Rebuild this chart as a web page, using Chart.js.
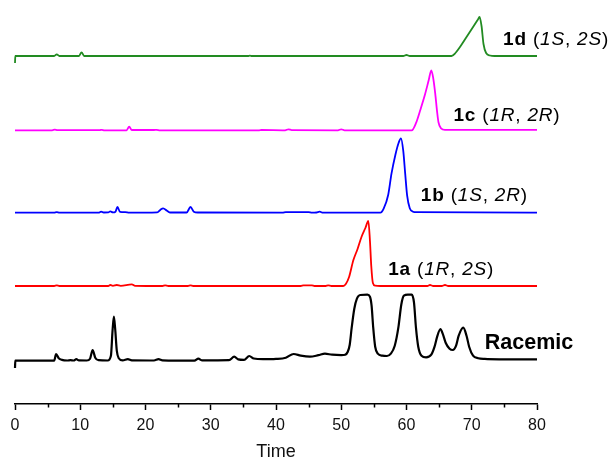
<!DOCTYPE html>
<html lang="en">
<head>
<meta charset="utf-8"/>
<title>Chromatograms</title>
<script src="https://cdn.jsdelivr.net/npm/chart.js"></script>
<style>
  html, body { margin: 0; padding: 0; background: #fff; }
  #wrap { width: 613px; height: 462px; }
</style>
</head>
<body>
<div id="wrap"><canvas id="chart" width="613" height="462"></canvas></div>
<script>
  // retention time (min), signal above each trace's own baseline
  const racemic = [
    [0,-7.3],[0.05,0],[6.0,0],[6.3,6.5],[6.7,2.5],[7.2,0.8],[8.0,0.2],[8.5,0.6],[9.0,0.2],[9.4,1.5],[9.8,0.3],
    [11.0,0.2],[11.5,2],[11.9,10.5],[12.3,3],[12.8,0.5],[14.2,0.2],[14.7,5],[14.95,30],[15.15,44],[15.35,32],
    [15.6,10],[15.9,2.5],[16.5,0.3],[17.3,1.5],[17.9,0.3],[21.3,0.2],[22.0,1.5],[22.6,0.3],[27.5,0],[28.1,2],
    [28.7,0.3],[32.8,0.5],[33.6,4],[34.2,1.3],[35.1,0.8],[35.9,4.7],[36.6,2.2],[38,1.5],[40,1.8],[41.5,3],
    [42.7,6.7],[43.8,5],[45.2,4],[46.5,5.5],[47.5,7],[48.6,6],[50,5.6],[50.6,6],[51.0,9],[51.3,16],[51.6,33],
    [52.0,52],[52.4,62],[52.9,65.7],[54.0,66],[54.4,64],[54.65,55],[54.9,33],[55.2,14],[55.6,7],[56.3,5],
    [57.0,4.7],[57.6,7],[58.2,15],[58.75,33],[59.2,56],[59.6,65],[60.2,66],[60.8,66],[61.15,58],[61.45,33],
    [61.8,14],[62.3,5],[63.0,3.4],[63.8,6],[64.3,14],[64.7,24],[65.2,31.7],[65.6,26],[66.0,18],[66.6,12],
    [67.1,10.7],[67.6,15],[68.0,25],[68.7,33],[69.2,25],[69.6,14],[70.2,5],[71.0,2.5],[72,1.8],[74.3,1.4],[80,1.3]
  ];
  const iso1a = [
    [0,0],[6.0,0],[6.4,0.7],[6.8,0],[14.3,0],[14.6,1],[15.0,0.2],[15.6,1],[16.2,0.2],[17.9,1.7],[18.4,0.2],
    [22.6,0],[23.0,0.7],[23.5,0],[26.5,0],[26.9,0.7],[27.3,0],[43.8,0],[44.2,0.7],[45.5,0.7],[45.9,0],[47.6,0],
    [48,0.7],[48.5,0],[50.3,0],[50.7,2],[51.2,9],[51.85,25.7],[52.5,37],[53.1,49],[53.7,58],[54.15,65],
    [54.4,45],[54.6,20],[54.85,3],[55.2,0.3],[56,0],[63.2,0],[63.6,1],[64.1,0],[65.4,0],[65.9,1],[66.4,0],[80,0]
  ];
  const iso1b = [
    [0,0],[6.0,0],[6.4,0.5],[6.8,0],[12.8,0],[13.2,1],[13.6,0.2],[14.3,0.3],[14.6,1.3],[15.0,0.3],[15.4,1],
    [15.7,5.7],[16.1,0.8],[16.9,0.5],[17.5,0],[21.8,0.3],[22.3,3],[22.7,4.4],[23.3,2],[23.8,0.2],[26.3,0.2],
    [26.9,5.7],[27.4,1],[28,0.2],[41,0],[41.5,0.5],[45,0.5],[45.5,0],[46.2,0.2],[46.7,1],[47.2,0],[56.0,0],
    [56.5,4],[57.2,18],[57.7,39],[58.3,58],[58.8,70],[59.15,74.4],[59.5,62],[59.8,39],[60.1,17],[60.5,4.4],
    [61.0,1],[61.5,0.5],[80,0]
  ];
  const iso1c = [
    [0,0],[5.7,0],[6.1,0.7],[6.5,0.2],[13.0,0.2],[13.3,0.5],[13.7,0],[17.1,0],[17.5,3.7],[17.9,0.3],[21.3,0.3],
    [21.7,0.5],[22.2,0],[37.4,0],[37.8,0.3],[41.4,0],[41.9,1],[42.4,0.2],[49.5,0],[50,1],[50.5,0],[60.8,0],
    [61.5,8],[62.1,20],[62.8,35],[63.4,50],[63.8,60],[64.1,52],[64.4,37],[64.7,18],[64.9,8],[65.3,2],[65.9,0.5],
    [80,0.5]
  ];
  const iso1d = [
    [0,-7],[0.05,0],[6.0,0],[6.4,1.7],[6.8,0],[9.8,0],[10.2,3.7],[10.6,0],[35.7,0],[36,0.3],[36.3,0],[59.5,0],
    [60.0,1],[60.5,0],[66.9,0],[67.5,3],[68.3,10],[69.2,19],[70.2,29],[70.9,36],[71.2,39],[71.5,30],[71.8,12],
    [72.2,3],[72.8,0.5],[73.5,0],[80,0]
  ];

  const traces  = [racemic, iso1a, iso1b, iso1c, iso1d];
  const offsets = [43.3, 118, 191.3, 273.7, 348];
  const colors  = ['#000000', '#ff0000', '#0000ff', '#ff00ff', '#228b22'];
  const widths  = [2.2, 1.8, 1.8, 1.8, 1.8];

  const xTicks = [0, 10, 20, 30, 40, 50, 60, 70, 80];
  const xMinor = [5, 15, 25, 35, 45, 55, 65, 75];

  // trace labels: anchor (time, signal) at left / middle of the text
  const traceLabels = [
    { at: [72.0, 60.7], parts: [['Racemic', 'bold']], size: 21.5, spacing: 0 },
    { at: [57.2, 134], parts: [['1a', 'bold'], [' (', ''], ['1R', 'italic'], [', ', ''], ['2S', 'italic'], [')', '']], size: 19, spacing: 0.8 },
    { at: [62.2, 208], parts: [['1b', 'bold'], [' (', ''], ['1S', 'italic'], [', ', ''], ['2R', 'italic'], [')', '']], size: 19, spacing: 0.8 },
    { at: [67.2, 288], parts: [['1c', 'bold'], [' (', ''], ['1R', 'italic'], [', ', ''], ['2R', 'italic'], [')', '']], size: 19, spacing: 0.8 },
    { at: [74.8, 364.7], parts: [['1d', 'bold'], [' (', ''], ['1S', 'italic'], [', ', ''], ['2S', 'italic'], [')', '']], size: 19, spacing: 0.8 }
  ];

  const FONT = 'Arial, "Liberation Sans", sans-serif';

  const datasets = traces.map((tr, i) => ({
    data: tr.map(p => ({ x: p[0], y: p[1] + offsets[i] })),
    borderColor: colors[i],
    borderWidth: widths[i],
    pointRadius: 0,
    fill: false,
    cubicInterpolationMode: 'monotone',
    clip: false
  }));

  const extras = {
    id: 'extras',
    afterDraw(chart) {
      const ctx = chart.ctx;
      const xs = chart.scales.x, ys = chart.scales.y;
      const yAxis = chart.chartArea.bottom;
      ctx.save();
      ctx.strokeStyle = '#000';
      ctx.lineWidth = 1.5;
      xMinor.forEach(v => {
        const px = Math.round(xs.getPixelForValue(v)) + 0.5;
        ctx.beginPath();
        ctx.moveTo(px, yAxis);
        ctx.lineTo(px, yAxis + 3.5);
        ctx.stroke();
      });
      ctx.fillStyle = '#000';
      ctx.textBaseline = 'middle';
      traceLabels.forEach(l => {
        let x = xs.getPixelForValue(l.at[0]);
        const y = ys.getPixelForValue(l.at[1]);
        ctx.letterSpacing = l.spacing + 'px';
        l.parts.forEach(([txt, style]) => {
          ctx.font = `${style} ${l.size}px ${FONT}`;
          ctx.fillText(txt, x, y);
          x += ctx.measureText(txt).width;
        });
      });
      ctx.restore();
    }
  };

  new Chart(document.getElementById('chart'), {
    type: 'line',
    data: { datasets },
    options: {
      responsive: false,
      animation: false,
      layout: { padding: { left: 15, right: 76, top: 10, bottom: 0 } },
      plugins: { legend: { display: false }, tooltip: { enabled: false } },
      scales: {
        x: {
          type: 'linear',
          min: 0, max: 80,
          afterBuildTicks: s => { s.ticks = xTicks.map(v => ({ value: v })); },
          afterFit: s => { s.height = 58; },
          ticks: { color: '#111', font: { family: FONT, size: 16 }, padding: 6, autoSkip: false, maxRotation: 0 },
          grid: { drawOnChartArea: false, drawTicks: true, tickLength: 6, tickColor: '#000', tickWidth: 1.5 },
          border: { display: true, color: '#000', width: 1.5 },
          title: { display: true, text: 'Time', color: '#111', font: { family: FONT, size: 18 }, padding: { top: 0, bottom: -1 } }
        },
        y: {
          display: false,
          min: 0, max: 394
        }
      }
    },
    plugins: [extras]
  });
</script>
</body>
</html>
